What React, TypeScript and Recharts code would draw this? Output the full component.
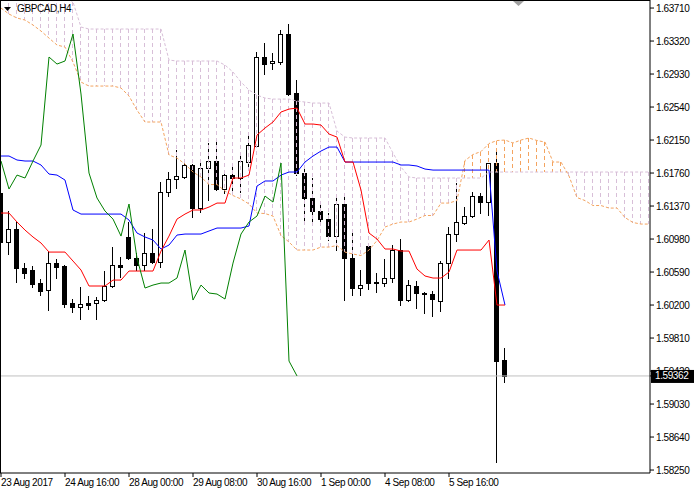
import React from 'react';
import { ComposedChart, Bar, Line, XAxis, YAxis, ReferenceLine } from 'recharts';

const symbolLabel = 'GBPCAD,H4';

const opens = [1.61524,1.60945,1.61098,1.60637,1.60614,1.60460,1.60377,1.60696,1.60661,1.60224,
 1.60176,1.60224,1.60224,1.60259,1.60425,1.60673,1.61004,1.60755,1.60673,1.60815,
 1.60708,1.61535,1.61689,1.61713,1.61855,1.61346,1.61819,1.61902,1.61571,1.61736,
 1.61701,1.61890,1.62079,1.63131,1.63060,1.63072,1.63403,1.62705,1.61760,1.61465,
 1.61311,1.61216,1.61015,1.61394,1.60755,1.60401,1.60897,1.60472,1.60460,1.60519,
 1.60850,1.60259,1.60425,1.60342,1.60330,1.60247,1.60696,1.61039,1.61169,1.61252,
 1.61488,1.61417,1.61878,1.59550];

const highs = [1.61559,1.61311,1.61181,1.60696,1.60661,1.60507,1.60826,1.60744,1.60673,1.60271,
 1.60413,1.60306,1.60295,1.60602,1.60885,1.60767,1.61181,1.60815,1.61051,1.61098,
 1.61654,1.61772,1.62032,1.61890,1.61866,1.61914,1.62115,1.62174,1.61795,1.61855,
 1.61996,1.62233,1.63190,1.63296,1.63178,1.63450,1.63521,1.62859,1.61843,1.61701,
 1.61405,1.61287,1.61465,1.61476,1.61086,1.60614,1.60921,1.60578,1.60744,1.60909,
 1.60980,1.60495,1.60484,1.60354,1.60366,1.60720,1.61122,1.61642,1.61358,1.61535,
 1.61524,1.61878,1.62032,1.59692];

const lows = [1.60815,1.60803,1.60472,1.60519,1.60413,1.60318,1.60141,1.60519,1.60176,1.60117,
 1.60035,1.60153,1.60035,1.60247,1.60413,1.60531,1.60744,1.60614,1.60614,1.60696,
 1.60649,1.61488,1.61583,1.61701,1.61240,1.61299,1.61441,1.61559,1.61524,1.61535,
 1.61535,1.61795,1.62067,1.62930,1.62989,1.63048,1.62682,1.61736,1.61169,1.61181,
 1.61181,1.60968,1.60850,1.60259,1.60318,1.60318,1.60389,1.60354,1.60425,1.60472,
 1.60200,1.60247,1.60165,1.60106,1.60070,1.60129,1.60519,1.60956,1.61157,1.61240,
 1.61287,1.61264,1.58345,1.59290];

const closes = [1.60945,1.61098,1.60637,1.60578,1.60448,1.60366,1.60696,1.60649,1.60212,1.60176,
 1.60212,1.60200,1.60259,1.60425,1.60673,1.60649,1.60755,1.60673,1.60815,1.60708,
 1.61535,1.61689,1.61725,1.61855,1.61346,1.61819,1.61902,1.61571,1.61736,1.61701,
 1.61902,1.62091,1.63131,1.63048,1.63084,1.63403,1.62694,1.61760,1.61465,1.61311,
 1.61216,1.61015,1.61394,1.60755,1.60401,1.60436,1.60460,1.60460,1.60519,1.60850,
 1.60259,1.60436,1.60342,1.60330,1.60271,1.60696,1.61039,1.61181,1.61252,1.61488,
 1.61417,1.61878,1.59538,1.59362];

const tenkanSen = [1.61287,1.61287,1.61181,1.61086,1.61004,1.60933,1.60826,1.60826,1.60826,1.60720,
 1.60614,1.60425,1.60425,1.60425,1.60495,1.60495,1.60602,1.60602,1.60602,1.60602,
 1.60838,1.61015,1.61216,1.61275,1.61323,1.61323,1.61358,1.61405,1.61405,1.61701,
 1.61701,1.61736,1.62209,1.62292,1.62363,1.62481,1.62516,1.62528,1.62339,1.62339,
 1.62327,1.62221,1.62185,1.61890,1.61890,1.61559,1.61051,1.60980,1.60862,1.60862,
 1.60838,1.60838,1.60625,1.60543,1.60519,1.60519,1.60590,1.60850,1.60850,1.60850,
 1.60850,1.60968,1.60200,1.60200];

const kijunSen = [1.61961,1.61961,1.61914,1.61902,1.61902,1.61855,1.61748,1.61736,1.61677,1.61323,
 1.61275,1.61275,1.61275,1.61275,1.61275,1.61275,1.61205,1.61051,1.61004,1.60968,
 1.60862,1.60909,1.61027,1.61039,1.61039,1.61039,1.61075,1.61110,1.61110,1.61110,
 1.61110,1.61134,1.61606,1.61666,1.61666,1.61736,1.61772,1.61772,1.61890,1.61961,
 1.62020,1.62067,1.62067,1.61890,1.61890,1.61890,1.61890,1.61890,1.61890,1.61890,
 1.61855,1.61855,1.61843,1.61807,1.61795,1.61795,1.61795,1.61795,1.61795,1.61795,
 1.61795,1.61795,1.60602,1.60200];

const chikouSpan = [1.61902,1.61571,1.61736,1.61701,1.61902,1.62091,1.63131,1.63048,1.63084,1.63403,
 1.62694,1.61760,1.61465,1.61311,1.61216,1.61015,1.61394,1.60755,1.60401,1.60436,
 1.60460,1.60460,1.60519,1.60850,1.60259,1.60436,1.60342,1.60330,1.60271,1.60696,
 1.61039,1.61181,1.61252,1.61488,1.61417,1.61878,1.59538,1.59362];

const senkouA = [1.63710,1.63639,1.63592,1.63568,1.63509,1.63438,1.63355,1.63273,1.63249,1.63072,
 1.62835,1.62788,1.62788,1.62788,1.62788,1.62765,1.62670,1.62504,1.62363,1.62363,
 1.62363,1.61973,1.61937,1.61866,1.61772,1.61713,1.61624,1.61624,1.61547,1.61494,
 1.61453,1.61394,1.61287,1.61281,1.61252,1.61021,1.60945,1.60850,1.60850,1.60850,
 1.60885,1.60885,1.60903,1.60826,1.60803,1.60785,1.60850,1.60962,1.61122,1.61157,
 1.61181,1.61181,1.61216,1.61258,1.61258,1.61405,1.61405,1.61435,1.61908,1.61979,
 1.62014,1.62109,1.62144,1.62150,1.62115,1.62150,1.62174,1.62144,1.62126,1.61890,
 1.61890,1.61725,1.61470,1.61435,1.61376,1.61376,1.61346,1.61346,1.61234,1.61175,
 1.61157,1.61157];

const senkouB = [1.63850,1.63850,1.63850,1.63850,1.63850,1.63850,1.63850,1.63850,1.63850,1.63781,
 1.63485,1.63462,1.63462,1.63462,1.63462,1.63462,1.63462,1.63462,1.63462,1.63462,
 1.63462,1.63095,1.63084,1.63084,1.63084,1.63084,1.63084,1.63084,1.63036,1.62954,
 1.62835,1.62741,1.62682,1.62646,1.62634,1.62634,1.62634,1.62611,1.62599,1.62587,
 1.62587,1.62587,1.62256,1.62185,1.62174,1.62174,1.62174,1.62174,1.62174,1.61996,
 1.61831,1.61713,1.61701,1.61701,1.61701,1.61701,1.61701,1.61701,1.61701,1.61701,
 1.61701,1.61772,1.61772,1.61772,1.61772,1.61772,1.61772,1.61772,1.61772,1.61772,
 1.61772,1.61772,1.61772,1.61772,1.61772,1.61772,1.61772,1.61772,1.61772,1.61772,
 1.61772,1.61772];

const xTickBars = [0, 8, 16, 24, 32, 40, 48, 56];
const xTickLabels = ['23 Aug 2017', '24 Aug 16:00', '28 Aug 00:00', '29 Aug 08:00', '30 Aug 16:00', '1 Sep 00:00', '4 Sep 08:00', '5 Sep 16:00'];
const yTicks = [1.5825, 1.5864, 1.5903, 1.5942, 1.5981, 1.602, 1.6059, 1.6098, 1.6137, 1.6176, 1.6215, 1.6254, 1.6293, 1.6332, 1.6371];
const lastPrice = 1.59362;

const Y_DOMAIN = [1.58215, 1.63805];
const X_DOMAIN = [-0.125, 81.125];
const FONT = "'Liberation Sans', Arial, sans-serif";

const rows = senkouA.map((a, i) => {
  const has = i < opens.length;
  const b = senkouB[i];
  return {
    i,
    wick: has ? [lows[i], highs[i]] : null,
    body: has ? [Math.min(opens[i], closes[i]), Math.max(opens[i], closes[i])] : null,
    bull: has ? closes[i] >= opens[i] : false,
    tenkan: i < tenkanSen.length ? tenkanSen[i] : null,
    kijun: i < kijunSen.length ? kijunSen[i] : null,
    chikou: i < chikouSpan.length ? chikouSpan[i] : null,
    spanA: a,
    spanB: b,
    kumoUp: a > b ? [b, a] : null,
    kumoDown: b >= a ? [a, b] : null,
  };
});

const labelMap: Record<number, string> = {};
xTickBars.forEach((b, k) => { labelMap[b] = xTickLabels[k]; });

// the current-price tag is drawn as the last y tick so it sits on top of the other labels
const yTicksWithPrice = [...yTicks, lastPrice];

const WickShape = (p: any) => {
  const { x, y, width, height, payload } = p;
  if (!payload || !payload.wick || !isFinite(y) || !isFinite(height)) return <g />;
  const cx = Math.floor(x + width / 2) + 0.5;
  const top = Math.round(Math.min(y, y + height));
  const bot = Math.round(Math.max(y, y + height)) + 1;
  return <line x1={cx} x2={cx} y1={top} y2={bot} stroke="#000" strokeWidth={1} shapeRendering="crispEdges" />;
};

const BodyShape = (p: any) => {
  const { x, y, width, height, payload } = p;
  if (!payload || !payload.body || !isFinite(y) || !isFinite(height)) return <g />;
  const cx = Math.floor(x + width / 2);
  const top = Math.round(Math.min(y, y + height));
  const h = Math.max(Math.round(Math.abs(height)), 1);
  return (
    <rect x={cx - 2 + 0.5} y={top + 0.5} width={4} height={h}
      fill={payload.bull ? '#fff' : '#000'} stroke="#000" strokeWidth={1} shapeRendering="crispEdges" />
  );
};

const makeHatch = (key: string, color: string) => (p: any) => {
  const { x, y, width, height, payload } = p;
  if (!payload || !payload[key] || !isFinite(y) || !isFinite(height)) return <g />;
  const cx = Math.floor(x + width / 2) + 0.5;
  const top = Math.min(y, y + height);
  const bot = Math.max(y, y + height);
  return <line x1={cx} x2={cx} y1={top} y2={bot} stroke={color} strokeWidth={1} strokeDasharray="4 3" shapeRendering="crispEdges" />;
};

const HatchUp = makeHatch('kumoUp', '#F4A460');
const HatchDown = makeHatch('kumoDown', '#D8BFD8');

const XTick = (p: any) => {
  const { x, payload } = p;
  return (
    <text x={x} y={486} textAnchor="start" fontSize={10} letterSpacing={-0.4} fontFamily={FONT} fill="#000">
      {labelMap[payload.value] ?? ''}
    </text>
  );
};

const YTick = (p: any) => {
  const { x, y, payload } = p;
  const v = Number(payload.value);
  if (v === lastPrice) {
    return (
      <g>
        <rect x={651} y={y - 6} width={44} height={13} fill="#000" />
        <text x={x - 1} y={y} dy="0.35em" textAnchor="start" fontSize={10} letterSpacing={-0.4} fontFamily={FONT} fill="#fff">
          {v.toFixed(5)}
        </text>
      </g>
    );
  }
  return (
    <text x={x} y={y} dy="0.35em" textAnchor="start" fontSize={10} letterSpacing={-0.4} fontFamily={FONT} fill="#000">
      {v.toFixed(5)}
    </text>
  );
};

const hiddenX = (id: string) => (
  <XAxis key={id} xAxisId={id} dataKey="i" type="number" domain={X_DOMAIN} allowDataOverflow hide height={0} />
);

export default function App() {
  return (
    <div style={{ position: 'absolute', left: 0, top: 0, width: 694, height: 493, background: '#fff', overflow: 'hidden' }}>
      <ComposedChart width={694} height={493} data={rows} margin={{ top: 0, right: 0, bottom: 0, left: 0 }}>
        <XAxis xAxisId="main" dataKey="i" type="number" domain={X_DOMAIN} allowDataOverflow
          ticks={xTickBars} interval={0} tick={<XTick />} tickSize={4} tickMargin={2} height={20}
          axisLine={{ stroke: '#000' }} tickLine={{ stroke: '#000' }} />
        {hiddenX('w')}
        {hiddenX('b')}
        {hiddenX('ku')}
        {hiddenX('kd')}
        <ReferenceLine xAxisId="main" y={lastPrice} stroke="#c0c0c0" strokeWidth={1} />
        <Bar xAxisId="w" dataKey="wick" barSize={1} shape={WickShape} isAnimationActive={false} />
        <Bar xAxisId="b" dataKey="body" barSize={5} shape={BodyShape} isAnimationActive={false} />
        <Bar xAxisId="ku" dataKey="kumoUp" barSize={1} shape={HatchUp} isAnimationActive={false} />
        <Bar xAxisId="kd" dataKey="kumoDown" barSize={1} shape={HatchDown} isAnimationActive={false} />
        <Line xAxisId="main" type="linear" dataKey="spanB" stroke="#D8BFD8" strokeWidth={1} strokeDasharray="3 2" dot={false} activeDot={false} isAnimationActive={false} />
        <Line xAxisId="main" type="linear" dataKey="spanA" stroke="#F4A460" strokeWidth={1} strokeDasharray="3 2" dot={false} activeDot={false} isAnimationActive={false} />
        <Line xAxisId="main" type="linear" dataKey="kijun" stroke="#0000FF" strokeWidth={1} dot={false} activeDot={false} isAnimationActive={false} />
        <Line xAxisId="main" type="linear" dataKey="tenkan" stroke="#FF0000" strokeWidth={1} dot={false} activeDot={false} isAnimationActive={false} />
        <Line xAxisId="main" type="linear" dataKey="chikou" stroke="#008000" strokeWidth={1} dot={false} activeDot={false} isAnimationActive={false} />
        <YAxis orientation="right" type="number" width={44} domain={Y_DOMAIN} allowDataOverflow
          ticks={yTicksWithPrice} interval={0} tick={<YTick />} tickSize={4} tickMargin={2}
          axisLine={{ stroke: '#000' }} tickLine={{ stroke: '#000' }} />
      </ComposedChart>
      <div style={{ position: 'absolute', left: 0, top: 0, width: 650, height: 473, borderTop: '1px solid #000', borderLeft: '1px solid #000', boxSizing: 'border-box', pointerEvents: 'none' }} />
      <svg width={694} height={20} style={{ position: 'absolute', left: 0, top: 0, pointerEvents: 'none' }}>
        <polygon points="4,7 11,7 7.5,11" fill="#000" />
        <text x={17} y={12} fontSize={10} letterSpacing={-0.4} fontFamily={FONT} fill="#000">{symbolLabel}</text>
        <polygon points="513,1 524,1 518.5,6" fill="#a0a0a0" />
      </svg>
    </div>
  );
}
